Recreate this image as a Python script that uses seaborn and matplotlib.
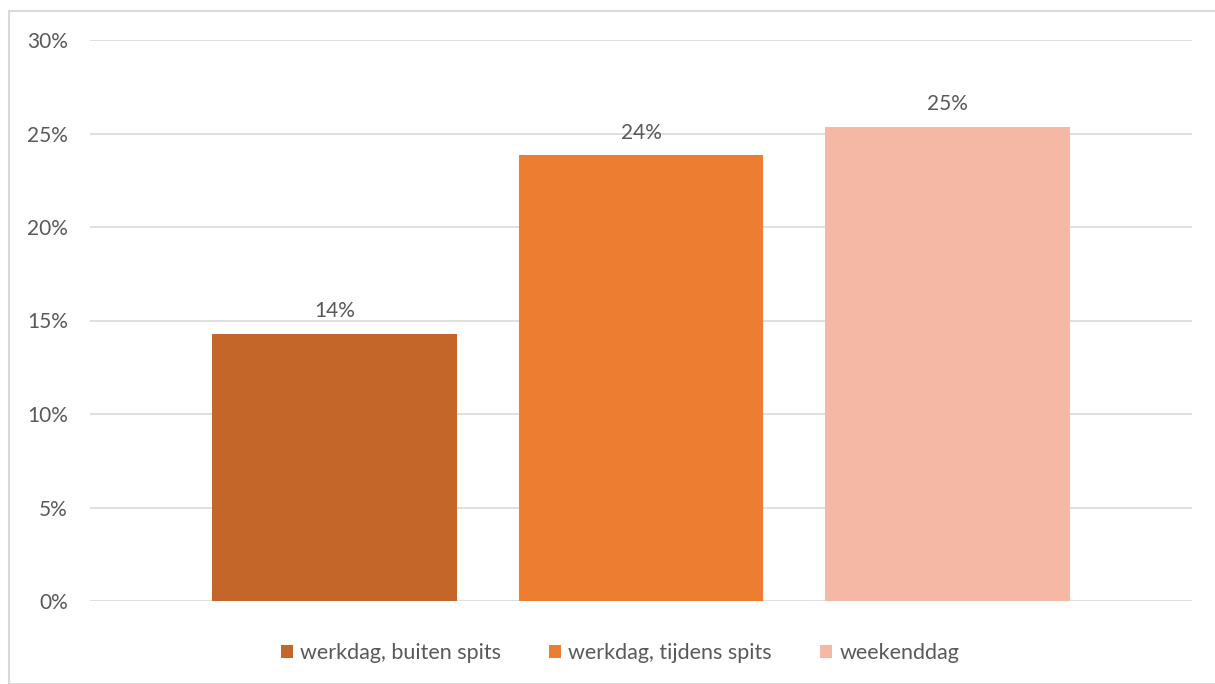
import matplotlib
matplotlib.use("Agg")
import matplotlib.pyplot as plt
import seaborn as sns
import pandas as pd
from matplotlib.patches import Rectangle, Patch

categories = ["werkdag, buiten spits", "werkdag, tijdens spits", "weekenddag"]
values = [14.3, 23.85, 25.35]
labels = ["14%", "24%", "25%"]
colors = ["#C4652A", "#ED7D31", "#F4B8A4"]
yticks = [0, 5, 10, 15, 20, 25, 30]

sns.set_theme(style="white")
plt.rcParams["font.family"] = ["Lato", "DejaVu Sans"]
txt = "#595959"

fig = plt.figure(figsize=(12.15, 6.84), dpi=100)
ax = fig.add_axes([90/1215, 1-601/684, (1192-90)/1215, (601-40)/684])

df = pd.DataFrame({"cat": categories, "val": values})
sns.barplot(data=df, x="cat", y="val", hue="cat", palette=colors, width=0.8,
            dodge=False, legend=False, ax=ax, saturation=1, linewidth=0)

for c, lab in zip(ax.containers, labels):
    ax.bar_label(c, labels=[lab], padding=9, fontsize=15, color=txt)

ax.set_xlim(-0.8, 2.8)
ax.set_ylim(0, 30)
ax.set_yticks(yticks)
ax.set_yticklabels([f"{t}%" for t in yticks], fontsize=15, color=txt)
ax.tick_params(axis="y", length=0, pad=16)
ax.set_xticks([])
ax.set_xlabel("")
ax.set_ylabel("")
ax.yaxis.grid(True, color="#D9D9D9", linewidth=1.2)
ax.set_axisbelow(True)
for s in ax.spines.values():
    s.set_visible(False)

handles = [Patch(facecolor=c, edgecolor="none") for c in colors]
fig.legend(handles, categories, loc="center", bbox_to_anchor=(620/1215, 1-653/684),
           ncol=3, frameon=False, fontsize=15.5, labelcolor=txt,
           handlelength=0.56, handleheight=0.56, handletextpad=0.33, columnspacing=2.25)

fig.patches.append(Rectangle((9/1215, 0), 1.0, 1-11/684, transform=fig.transFigure,
                             fill=False, edgecolor="#D9D9D9", linewidth=1.5))

fig.savefig("out.png", dpi=100)
